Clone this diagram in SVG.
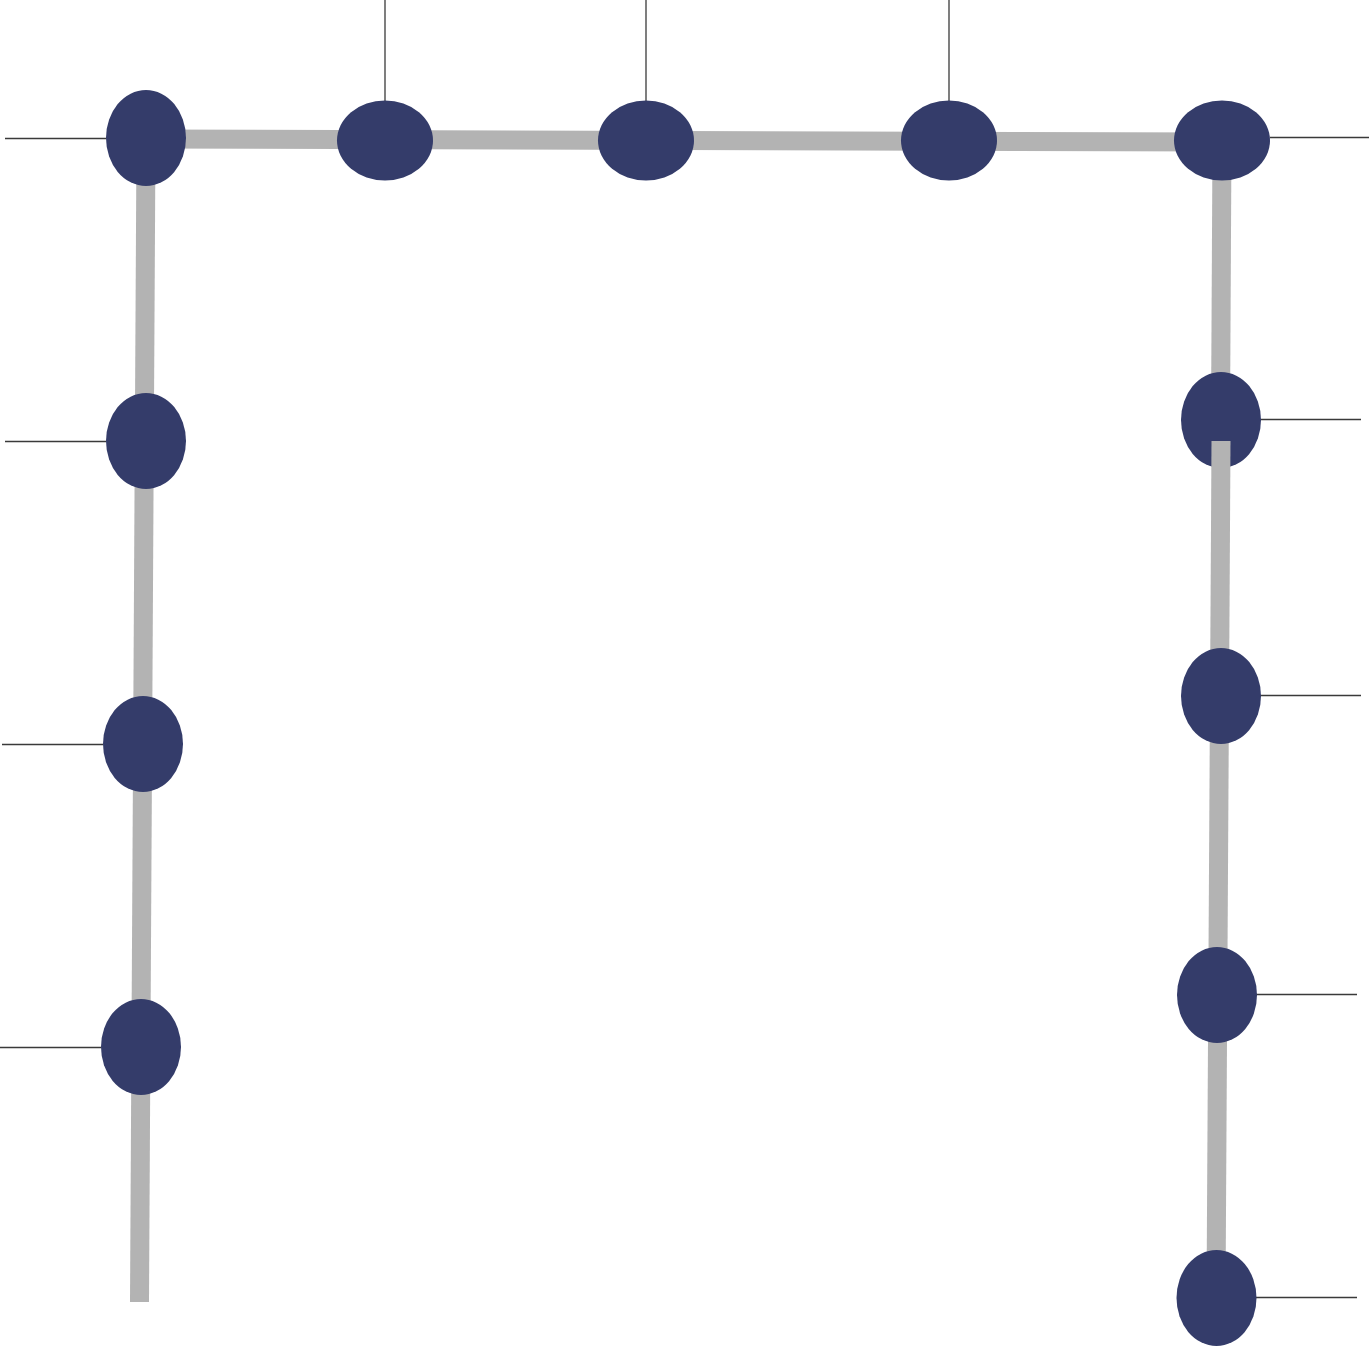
<svg xmlns="http://www.w3.org/2000/svg" width="1371" height="1347" viewBox="0 0 1371 1347">
<style>
.n{fill:#343C6A}
.g{stroke:#B3B3B3;stroke-width:19;fill:none}
.t{stroke:#3a3a3a;stroke-width:1.3;fill:none}
</style>
<rect width="1371" height="1347" fill="#fff"/>
<g id="connectors">
<line class="g" x1="146" y1="139" x2="1222" y2="142"/>
<line class="g" x1="146" y1="139" x2="139.5" y2="1302"/>
<line class="g" x1="1222" y1="142" x2="1220.5" y2="420"/>
<line class="t" x1="385" y1="0" x2="385" y2="101"/>
<line class="t" x1="646" y1="0" x2="646" y2="101"/>
<line class="t" x1="949" y1="0" x2="949" y2="101"/>
<line class="t" x1="1270" y1="137.5" x2="1369" y2="137.5"/>
<line class="t" x1="5" y1="138.5" x2="106" y2="138.5"/>
<line class="t" x1="5" y1="441.5" x2="106" y2="441.5"/>
<line class="t" x1="2" y1="744.5" x2="103" y2="744.5"/>
<line class="t" x1="0" y1="1047.5" x2="101" y2="1047.5"/>
<line class="t" x1="1260" y1="419.5" x2="1361" y2="419.5"/>
<line class="t" x1="1260" y1="695.5" x2="1361" y2="695.5"/>
<line class="t" x1="1256" y1="994.5" x2="1357" y2="994.5"/>
<line class="t" x1="1256" y1="1297.5" x2="1357" y2="1297.5"/>
</g>
<g id="node-r1"><ellipse class="n" cx="1221" cy="420" rx="40" ry="48"/></g>
<g id="connectors-right-lower">
<line class="g" x1="1221" y1="441" x2="1216" y2="1298"/>
</g>
<g id="node-l1"><ellipse class="n" cx="146" cy="138" rx="40" ry="48"/></g>
<g id="node-t1"><ellipse class="n" cx="385" cy="140.5" rx="48" ry="40"/></g>
<g id="node-t2"><ellipse class="n" cx="646" cy="140.5" rx="48" ry="40"/></g>
<g id="node-t3"><ellipse class="n" cx="949" cy="140.5" rx="48" ry="40"/></g>
<g id="node-t4"><ellipse class="n" cx="1222" cy="140.5" rx="48" ry="40"/></g>
<g id="node-l2"><ellipse class="n" cx="146" cy="441" rx="40" ry="48"/></g>
<g id="node-l3"><ellipse class="n" cx="143" cy="744" rx="40" ry="48"/></g>
<g id="node-l4"><ellipse class="n" cx="141" cy="1047" rx="40" ry="48"/></g>
<g id="node-r2"><ellipse class="n" cx="1221" cy="696" rx="40" ry="48"/></g>
<g id="node-r3"><ellipse class="n" cx="1217" cy="995" rx="40" ry="48"/></g>
<g id="node-r4"><ellipse class="n" cx="1216.5" cy="1298" rx="40" ry="48"/></g>
</svg>
